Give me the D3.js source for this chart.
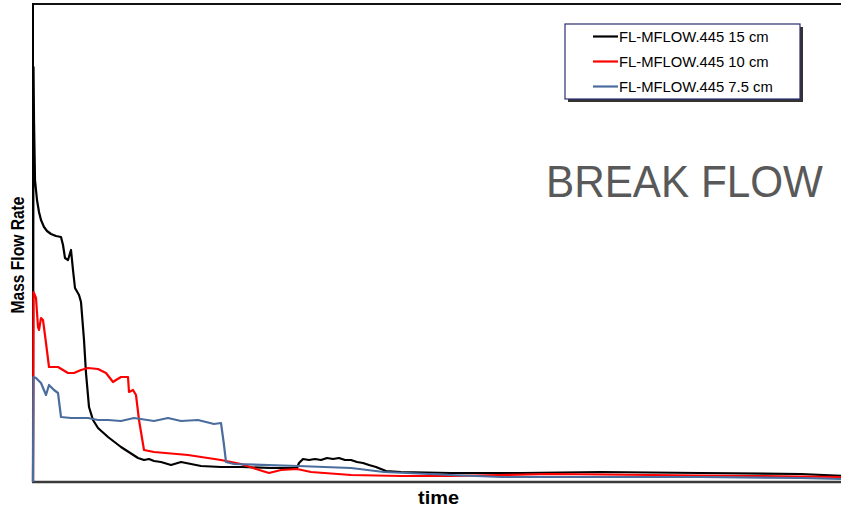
<!DOCTYPE html>
<head>
  <meta charset="utf-8">
  <script src="https://d3js.org/d3.v7.min.js"></script>
  <style>
    body { margin: 0; background: #fff; }
    text { font-family: "Liberation Sans", Arial, sans-serif; }
    .series { fill: none; stroke-width: 2.2px; stroke-linejoin: round; }
  </style>
</head>

<body>
  <script>
    var width = 841;
    var height = 510;

    // time (arbitrary units) and mass flow rate (arbitrary units)
    var flow15 = [
      [0,0],[0.5,415],[1,362],[2,302],[4,282],[6,270],[8,262],[11,255],[14,251],[18,248],
      [23,246],[28,245],[30,237],[32,224],[35,222],[38,232],[40,212],[42,194],[46,187],[48,180],
      [51,142],[53,109],[56,75],[60,62],[65,54],[75,45],[88,35],[105,24],[111,22],[116,23],
      [121,21],[128,20],[138,17],[148,20],[158,18],[168,16],[188,15],[208,15],[238,14],[264,14],
      [266,19],[270,23],[276,22],[282,23],[288,22],[294,24],[300,23],[306,24],[312,22],[318,22],
      [324,20],[330,19],[336,17],[343,15],[348,13],[353,11],[368,10],
      [418,9],[488,9],[568,10],[668,9],[768,8],[809,6]
    ];
    var flow10 = [
      [0,0],[0.5,190],[3,184],[5,155],[6,152],[8,164],[10,162],[13,139],[16,115],[25,115],
      [30,112],[35,109],[41,109],[48,112],[55,114],[65,113],[73,109],[80,100],[83,102],[88,105],
      [95,105],[96,90],[100,92],[103,87],[106,62],[111,32],[121,30],[155,27],[188,22],[208,18],
      [223,13],[236,9],[248,12],[264,13],[278,10],[318,7],[368,6],[418,6],[518,8],[618,7],
      [718,6],[809,5]
    ];
    var flow75 = [
      [0,0],[0.5,105],[3,104],[8,99],[13,87],[16,97],[21,92],[25,89],[28,65],[38,64],
      [55,64],[65,62],[75,62],[88,61],[101,64],[121,61],[135,64],[148,61],[165,62],[181,58],
      [188,59],[191,37],[193,20],[201,18],[265,16],[318,14],[351,10],[418,7],[468,5],[568,5],
      [668,5],[768,4],[809,3]
    ];

    var seriesNames = ["FL-MFLOW.445 15 cm", "FL-MFLOW.445 10 cm", "FL-MFLOW.445 7.5 cm"];
    var seriesColors = ["#000000", "#ff0000", "#4a6d9e"];
    var seriesData = [flow15, flow10, flow75];

    var svg = d3.select("body").append("svg")
        .attr("width", width)
        .attr("height", height);

    var x = d3.scaleLinear().domain([0, 809]).range([32, 841]);
    var y = d3.scaleLinear().domain([0, 478]).range([482, 4]);

    // frame
    svg.append("line")
      .attr("x1", x(0)).attr("x2", x(809)).attr("y1", y(478)).attr("y2", y(478))
      .attr("stroke", "#111").attr("stroke-width", 2);
    svg.append("line")
      .attr("x1", x(0) + 1).attr("x2", x(0) + 1).attr("y1", y(478) - 1).attr("y2", y(0))
      .attr("stroke", "#000").attr("stroke-width", 2);
    svg.append("line")
      .attr("x1", x(0)).attr("x2", x(809)).attr("y1", y(0)).attr("y2", y(0))
      .attr("stroke", "#3a3a3a").attr("stroke-width", 2.5);

    var line = d3.line()
      .x(function (d) { return x(d[0]) + 1; })
      .y(function (d) { return y(d[1]); });

    svg.selectAll("path.series")
      .data(seriesData)
      .enter().append("path")
      .attr("class", "series")
      .attr("stroke", function (d, i) { return seriesColors[i]; })
      .attr("d", line);

    // legend
    var lg = svg.append("g").attr("transform", "translate(565,24)");
    lg.append("rect")
      .attr("x", 3).attr("y", 3).attr("width", 235).attr("height", 75)
      .attr("fill", "#333");
    lg.append("rect")
      .attr("x", 0).attr("y", 0).attr("width", 235).attr("height", 75)
      .attr("fill", "#fff").attr("stroke", "#2b2d70").attr("stroke-width", 1.2);
    seriesNames.forEach(function (name, i) {
      var yy = 12.5 + i * 25;
      lg.append("line")
        .attr("x1", 28).attr("x2", 53).attr("y1", yy).attr("y2", yy)
        .attr("stroke", seriesColors[i]).attr("stroke-width", 2.2);
      lg.append("text")
        .attr("x", 54).attr("y", yy + 5)
        .attr("font-size", "14.8px")
        .attr("fill", "#000")
        .text(name);
    });

    // labels
    svg.append("text")
      .attr("transform", "translate(24,255) rotate(-90)")
      .attr("text-anchor", "middle")
      .attr("font-size", "18.5px")
      .attr("font-weight", "bold")
      .attr("textLength", 117)
      .attr("lengthAdjust", "spacingAndGlyphs")
      .text("Mass Flow Rate");

    svg.append("text")
      .attr("x", 418).attr("y", 504)
      .attr("font-size", "18.5px")
      .attr("font-weight", "bold")
      .attr("textLength", 41)
      .attr("lengthAdjust", "spacingAndGlyphs")
      .text("time");

    svg.append("text")
      .attr("x", 546).attr("y", 197)
      .attr("font-family", "'Open Sans', sans-serif")
      .attr("font-size", "44px")
      .attr("fill", "#595959")
      .attr("textLength", 277)
      .attr("lengthAdjust", "spacingAndGlyphs")
      .text("BREAK FLOW");
  </script>
</body>
